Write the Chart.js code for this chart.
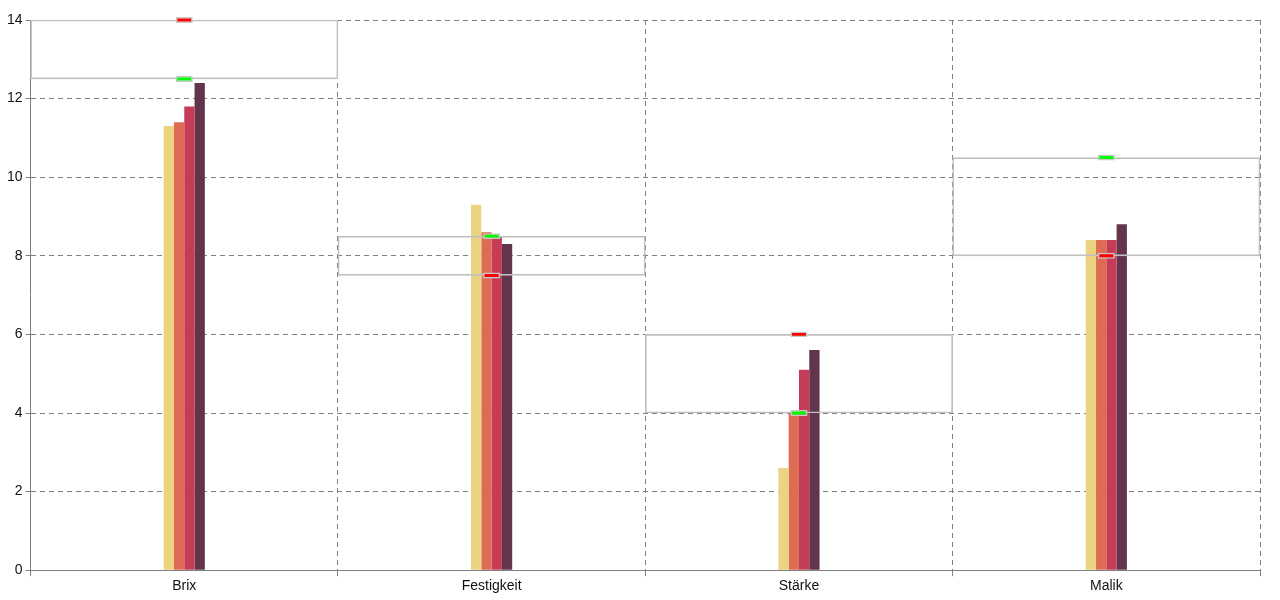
<!DOCTYPE html>
<html>
<head>
<meta charset="utf-8">
<script src="https://cdn.jsdelivr.net/npm/chart.js@4/dist/chart.umd.min.js"></script>
<style>
  html, body { margin: 0; padding: 0; background: #fff; }
  #wrap { width: 1280px; height: 600px; }
</style>
</head>
<body>
<div id="wrap"><canvas id="myChart"></canvas></div>
<script>
// Kategorien und Messwerte
const categories = ["Brix", "Festigkeit", "Stärke", "Malik"];
const messung1 = [11.3, 9.3, 2.6, 8.4];
const messung2 = [11.4, 8.6, 4.0, 8.4];
const messung3 = [11.8, 8.5, 5.1, 8.4];
const messung4 = [12.4, 8.3, 5.6, 8.8];

// Sollbereich pro Kategorie
const bereichMin = [12.5, 7.5, 4, 8];
const bereichMax = [14, 8.5, 6, 10.5];

// Markierungen (grün / rot)
const gruenWerte = [12.5, 8.5, 4, 10.5];
const rotWerte = [14, 7.5, 6, 8];

const yTicks = [0, 2, 4, 6, 8, 10, 12, 14];

const farben = ["#ECD382", "#DE6B54", "#C43C56", "#63354D"];
const gridFarbe = "#808080";
const markHalb = 0.075;

function balken(label, werte, farbe) {
  return {
    type: "bar",
    label: label,
    data: werte,
    backgroundColor: farbe,
    borderWidth: 0,
    categoryPercentage: 0.134,
    barPercentage: 1,
    order: 3,
  };
}

function marker(label, werte, farbe) {
  return {
    type: "bar",
    label: label,
    data: werte.map((v) => [v - markHalb, v + markHalb]),
    backgroundColor: farbe,
    borderColor: "#C8C8C8",
    borderWidth: 1.5,
    borderSkipped: false,
    grouped: false,
    maxBarThickness: 17,
    clip: false,
    order: 1,
  };
}

const datasets = [
  balken("Messung 1", messung1, farben[0]),
  balken("Messung 2", messung2, farben[1]),
  balken("Messung 3", messung3, farben[2]),
  balken("Messung 4", messung4, farben[3]),
  {
    type: "bar",
    label: "Bereich",
    data: bereichMin.map((v, i) => [v, bereichMax[i]]),
    backgroundColor: "rgba(0,0,0,0)",
    borderColor: "#C0C0C0",
    borderWidth: 1,
    borderSkipped: false,
    grouped: false,
    categoryPercentage: 1,
    barPercentage: 1,
    clip: false,
    order: 2,
  },
  marker("Grün", gruenWerte, "#00FF00"),
  marker("Rot", rotWerte, "#FF0000"),
];

const ctx = document.querySelector("#myChart").getContext("2d");

let myChart = new Chart(ctx, {
  type: "bar",
  data: { labels: categories, datasets: datasets },
  options: {
    responsive: true,
    maintainAspectRatio: false,
    animation: false,
    layout: { padding: { left: 4, right: 20, top: 20, bottom: 3 } },
    plugins: { legend: { display: false }, tooltip: { enabled: false } },
    scales: {
      x: {
        grid: {
          color: gridFarbe,
          offset: true,
          tickLength: 6,
          tickBorderDash: [],
        },
        border: { color: gridFarbe, width: 1, dash: [5, 4] },
        ticks: {
          color: "#111",
          font: { family: "Liberation Sans, Arial", size: 14 },
          padding: 2,
        },
      },
      y: {
        min: 0,
        max: 14,
        afterBuildTicks: (axis) => {
          axis.ticks = yTicks.map((v) => ({ value: v }));
        },
        grid: {
          color: gridFarbe,
          tickLength: 5,
          tickBorderDash: [],
        },
        border: { color: gridFarbe, width: 1, dash: [5, 4] },
        ticks: {
          color: "#111",
          font: { family: "Liberation Sans, Arial", size: 14 },
          padding: 3,
        },
      },
    },
  },
});
</script>
</body>
</html>
